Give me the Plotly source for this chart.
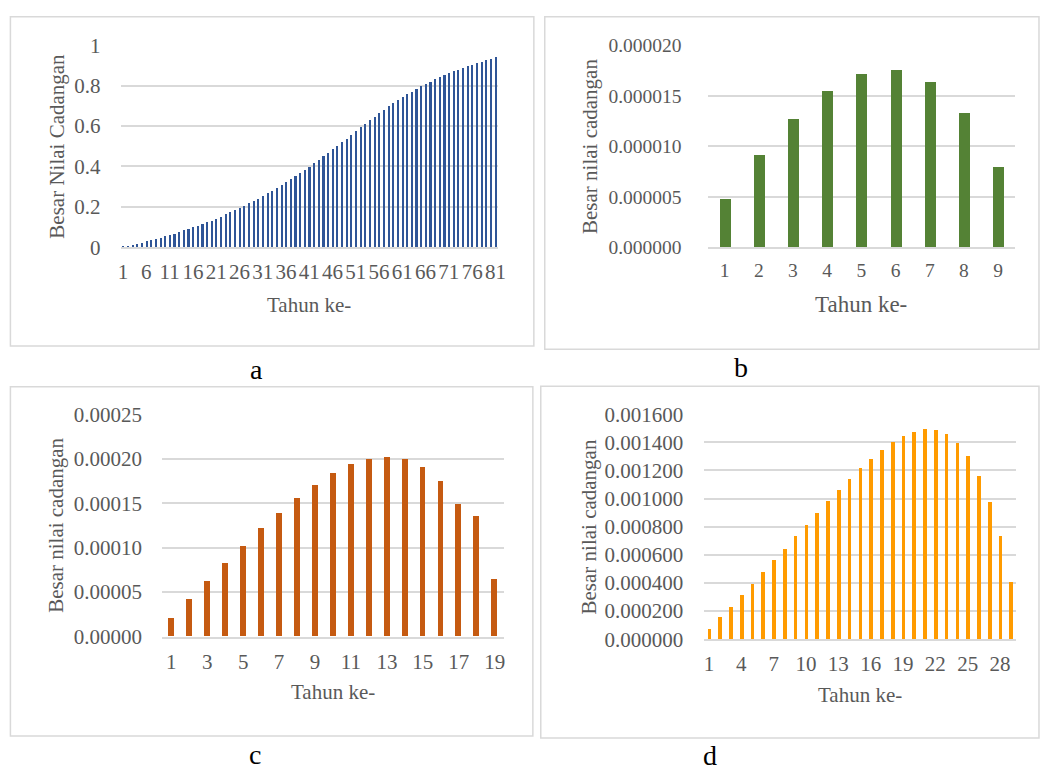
import plotly.graph_objects as go

W, H = 1045, 783

# ---------------- data ----------------
years_a = list(range(1, 82))
values_a = [0.003, 0.005, 0.010, 0.016, 0.021, 0.029, 0.035, 0.040, 0.045, 0.053,
            0.061, 0.065, 0.074, 0.082, 0.088, 0.098, 0.106, 0.114, 0.122, 0.131,
            0.141, 0.149, 0.162, 0.172, 0.181, 0.192, 0.205, 0.216, 0.228, 0.239,
            0.253, 0.266, 0.279, 0.293, 0.306, 0.321, 0.335, 0.350, 0.366, 0.381,
            0.398, 0.415, 0.432, 0.449, 0.466, 0.483, 0.500, 0.518, 0.536, 0.555,
            0.573, 0.592, 0.610, 0.628, 0.645, 0.662, 0.679, 0.696, 0.711, 0.726,
            0.741, 0.755, 0.768, 0.781, 0.795, 0.808, 0.819, 0.830, 0.840, 0.850,
            0.860, 0.869, 0.878, 0.887, 0.896, 0.903, 0.910, 0.917, 0.925, 0.933,
            0.940]
ticks_a = [1, 6, 11, 16, 21, 26, 31, 36, 41, 46, 51, 56, 61, 66, 71, 76, 81]

years_b = list(range(1, 10))
values_b = [4.80e-6, 9.12e-6, 12.70e-6, 15.46e-6, 17.09e-6, 17.50e-6, 16.32e-6, 13.28e-6, 7.94e-6]
ticks_b = list(range(1, 10))

years_c = list(range(1, 20))
values_c = [0.0000203, 0.0000414, 0.0000618, 0.0000825, 0.0001021, 0.0001214, 0.0001388,
            0.0001555, 0.0001701, 0.0001835, 0.0001933, 0.0001999, 0.0002020, 0.0001995,
            0.0001900, 0.0001741, 0.0001486, 0.0001348, 0.0000640]
ticks_c = [1, 3, 5, 7, 9, 11, 13, 15, 17, 19]

years_d = list(range(1, 30))
values_d = [0.0000736, 0.000154, 0.000230, 0.000310, 0.000391, 0.000474, 0.000559, 0.000641,
            0.000729, 0.000811, 0.000894, 0.000979, 0.001062, 0.001138, 0.001214, 0.001283,
            0.001345, 0.001400, 0.001444, 0.001474, 0.001490, 0.001483, 0.001455, 0.001395,
            0.001299, 0.001161, 0.000975, 0.000729, 0.000407]
ticks_d = [1, 4, 7, 10, 13, 16, 19, 22, 25, 28]

ytick_a = [0, 0.2, 0.4, 0.6, 0.8, 1]
ytick_b = [0, 0.000005, 0.00001, 0.000015, 0.00002]
ytick_c = [0, 0.00005, 0.0001, 0.00015, 0.0002, 0.00025]
ytick_d = [0, 0.0002, 0.0004, 0.0006, 0.0008, 0.001, 0.0012, 0.0014, 0.0016]

xtitle = "Tahun ke-"
ytitle_a = "Besar Nilai Cadangan"
ytitle_other = "Besar nilai cadangan"
panel_labels = ["a", "b", "c", "d"]

# ---------------- styling ----------------
FONT = "Liberation Serif, Times New Roman, serif"
GRAY = "#595959"
GRID = "#D9D9D9"


def px_x(x):
    return x / W


def px_y(y):
    return 1 - y / H


panels = [
    dict(x=years_a, y=values_a, xt=ticks_a, yt=ytick_a, fmt=None, color="#2F5597", bw=0.45,
         box=(119, 500, 34.3, 242.7), tf=21, xtf=21, ytitle=ytitle_a, ylen=15),
    dict(x=years_b, y=values_b, xt=ticks_b, yt=ytick_b, fmt=".6f", color="#548235", bw=0.32,
         box=(712, 1023, 34.3, 242.7), tf=19.5, xtf=23, ytitle=ytitle_other, ylen=21),
    dict(x=years_c, y=values_c, xt=ticks_c, yt=ytick_c, fmt=".5f", color="#C55A11", bw=0.33,
         box=(161, 506, 415, 644.3), tf=21, xtf=21, ytitle=ytitle_other, ylen=15),
    dict(x=years_d, y=values_d, xt=ticks_d, yt=ytick_d, fmt=".6f", color="#FF9B00", bw=0.34,
         box=(708, 1024, 415, 647), tf=21, xtf=21, ytitle=ytitle_other, ylen=15),
]

fig = go.Figure()
layout = dict(
    width=W, height=H,
    margin=dict(l=0, r=0, t=0, b=0),
    paper_bgcolor="white", plot_bgcolor="white",
    showlegend=False,
    font=dict(family=FONT, color=GRAY),
    bargap=0,
)

annotations = []
shapes = []

ytitle_x = [55, 593, 54, 592]
xtitle_y = [302, 302, 702, 705]

for i, p in enumerate(panels):
    sfx = "" if i == 0 else str(i + 1)
    l, r, t, b = p["box"]
    fig.add_trace(go.Bar(
        x=p["x"], y=p["y"], width=p["bw"],
        marker=dict(color=p["color"], line=dict(width=0)),
        xaxis="x" + sfx, yaxis="y" + sfx,
        hoverinfo="x+y",
    ))
    n = len(p["x"])
    layout["xaxis" + sfx] = dict(
        domain=[px_x(l), px_x(r)],
        anchor="y" + sfx,
        range=[0.5, n + 0.5],
        tickmode="array", tickvals=p["xt"], ticktext=[str(v) for v in p["xt"]],
        ticks="outside", ticklen=5, tickcolor="rgba(0,0,0,0)",
        tickfont=dict(family=FONT, size=p["tf"], color=GRAY),
        showgrid=False, zeroline=False,
        showline=True, linecolor=GRID, linewidth=1.5,
        fixedrange=True,
    )
    ymax = p["yt"][-1]
    ydict = dict(
        domain=[px_y(b), px_y(t)],
        anchor="x" + sfx,
        range=[0, ymax],
        tickmode="array", tickvals=p["yt"],
        ticks="outside", ticklen=p["ylen"], tickcolor="rgba(0,0,0,0)",
        tickfont=dict(family=FONT, size=p["tf"], color=GRAY),
        showgrid=True, gridcolor=GRID, gridwidth=1.5,
        zeroline=False, showline=False,
        fixedrange=True,
    )
    if p["fmt"]:
        ydict["tickformat"] = p["fmt"]
    layout["yaxis" + sfx] = ydict

    annotations.append(dict(
        x=px_x((l + r) / 2), y=px_y(xtitle_y[i]), xref="paper", yref="paper",
        text=xtitle, showarrow=False, xanchor="center", yanchor="middle",
        font=dict(family=FONT, size=p["xtf"], color=GRAY),
    ))
    annotations.append(dict(
        x=px_x(ytitle_x[i]), y=px_y((t + b) / 2), xref="paper", yref="paper",
        text=p["ytitle"], showarrow=False, xanchor="center", yanchor="middle",
        textangle=-90,
        font=dict(family=FONT, size=21, color=GRAY),
    ))

frames = [(7.5, 536.5, 5, 344.5), (547.5, 1047, 5, 348), (7.5, 535.5, 386.5, 747), (543.5, 1047, 386, 749)]
for (x0, x1, y0, y1) in frames:
    shapes.append(dict(type="rect", xref="paper", yref="paper",
                       x0=px_x(x0), x1=px_x(x1), y0=px_y(y1), y1=px_y(y0),
                       line=dict(color=GRID, width=1.5), fillcolor="rgba(0,0,0,0)", layer="below"))

letter_pos = [(256, 369), (746, 367), (255, 766), (715, 767)]
for lab, (lx, ly) in zip(panel_labels, letter_pos):
    annotations.append(dict(
        x=px_x(lx), y=px_y(ly), xref="paper", yref="paper",
        text=lab, showarrow=False, xanchor="center", yanchor="middle",
        font=dict(family=FONT, size=28, color="black"),
    ))

layout["annotations"] = annotations
layout["shapes"] = shapes
fig.update_layout(**layout)

fig.write_html("out.html", config={"displayModeBar": False},
               post_script="document.body.style.margin='0';document.body.style.overflow='hidden';")
